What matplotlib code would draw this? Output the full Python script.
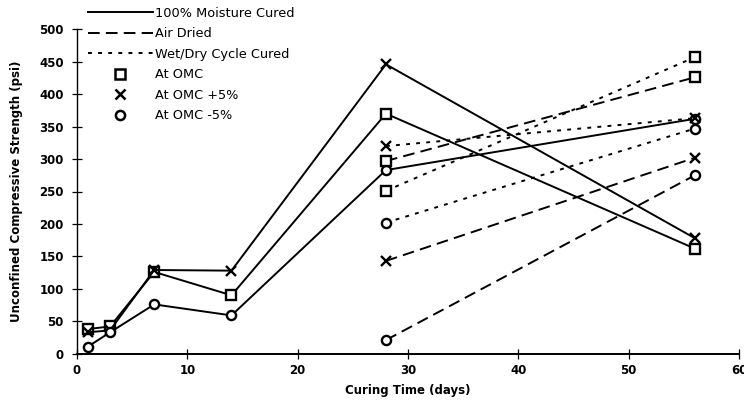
import matplotlib
matplotlib.use("Agg")
import matplotlib.pyplot as plt
from matplotlib.lines import Line2D

plt.rcParams['font.family'] = ['DejaVu Sans']

# Curing ages (days)
days_moist = [1, 3, 7, 14, 28, 56]
days_late = [28, 56]

# 100% moisture cured
moist_omc = [38, 42, 126, 90, 370, 162]
moist_plus5 = [33, 36, 129, 128, 446, 178]
moist_minus5 = [11, 33, 76, 59, 283, 362]

# Air dried
air_omc = [297, 426]
air_plus5 = [143, 302]
air_minus5 = [21, 275]

# Wet/dry cycle cured
wetdry_omc = [251, 457]
wetdry_plus5 = [320, 363]
wetdry_minus5 = [202, 347]

x_ticks = [0, 10, 20, 30, 40, 50, 60]
y_ticks = [0, 50, 100, 150, 200, 250, 300, 350, 400, 450, 500]

fig = plt.figure(figsize=(7.44, 4.04), dpi=100)
ax = fig.add_axes([77 / 744, 1 - 353.7 / 404, (739 - 77) / 744, (353.7 - 29.3) / 404])

lw = 1.4
solid = dict(linestyle='-')
dashed = dict(linestyle=(0, (6.0, 3.2)))
dotted = dict(linestyle=(0, (2.0, 3.2)))
marker_sizes = {'s': 7.2, 'x': 7.5, 'o': 6.6}

series = [
    (days_moist, moist_omc, solid, 's'),
    (days_moist, moist_plus5, solid, 'x'),
    (days_moist, moist_minus5, solid, 'o'),
    (days_late, air_omc, dashed, 's'),
    (days_late, air_plus5, dashed, 'x'),
    (days_late, air_minus5, dashed, 'o'),
    (days_late, wetdry_omc, dotted, 's'),
    (days_late, wetdry_plus5, dotted, 'x'),
    (days_late, wetdry_minus5, dotted, 'o'),
]
for xs, ys, ls, m in series:
    ax.plot(xs, ys, marker=m, markersize=marker_sizes[m], markeredgewidth=1.7,
            markerfacecolor='white', markeredgecolor='black', color='black',
            linewidth=lw, clip_on=False, **ls)

ax.set_xlim(0, 60)
ax.set_ylim(0, 500)
ax.set_xticks(x_ticks)
ax.set_yticks(y_ticks)
ax.set_xticklabels([str(v) for v in x_ticks], fontsize=8.5, fontweight='bold')
ax.set_yticklabels([str(v) for v in y_ticks], fontsize=8.5, fontweight='bold')
ax.tick_params(axis='both', direction='inout', length=7, width=0.9, pad=6)
ax.tick_params(axis='x', pad=4)
for side in ('top', 'right'):
    ax.spines[side].set_visible(False)
ax.spines['left'].set_linewidth(1.0)
ax.spines['bottom'].set_linewidth(1.4)

ax.set_xlabel('Curing Time (days)', fontsize=8.5, fontweight='bold', labelpad=5)
ax.set_ylabel('Unconfined Compressive Strength (psi)', fontsize=8.5,
              fontweight='bold', labelpad=12)

handles = [
    Line2D([], [], color='black', linewidth=lw, **solid),
    Line2D([], [], color='black', linewidth=lw, **dashed),
    Line2D([], [], color='black', linewidth=lw, **dotted),
    Line2D([], [], linestyle='none', marker='s', markersize=7.2, markeredgewidth=1.8,
           markerfacecolor='white', markeredgecolor='black'),
    Line2D([], [], linestyle='none', marker='x', markersize=7.5, markeredgewidth=1.8,
           markeredgecolor='black'),
    Line2D([], [], linestyle='none', marker='o', markersize=6.6, markeredgewidth=1.8,
           markerfacecolor='white', markeredgecolor='black'),
]
labels = ['100% Moisture Cured', 'Air Dried', 'Wet/Dry Cycle Cured',
          'At OMC', 'At OMC +5%', 'At OMC -5%']
fig.legend(handles, labels, loc='upper left', bbox_to_anchor=(88 / 744, 1 - 7 / 404),
           frameon=False, fontsize=9.3, handlelength=5.0, handletextpad=0.18,
           labelspacing=0.58, borderaxespad=0, borderpad=0)

fig.savefig('out.png', dpi=100, facecolor='white')
